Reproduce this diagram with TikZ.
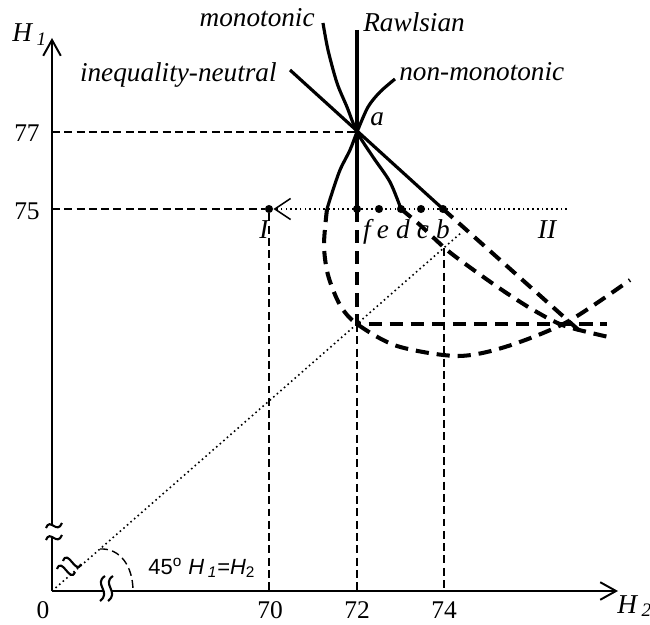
\documentclass[tikz,border=0pt]{standalone}
\usepackage{fontspec}
\setmainfont{Liberation Serif}
\setsansfont{Liberation Sans}
\usepackage{tikz}
\usetikzlibrary{arrows.meta}

\begin{document}
\begin{tikzpicture}[
    x=0.02cm, y=-0.02cm,
    axis/.style={line width=1.1pt},
    axarrow/.style={-{Straight Barb[length=9pt, width=10pt]}},
    curve/.style={line width=1.8pt},
    ext/.style={line width=2.3pt, dash pattern=on 7.5pt off 4.5pt},
    guide/.style={line width=0.8pt, dash pattern=on 4.5pt off 2.5pt},
    dots/.style={line width=0.9pt, dash pattern=on 0.9pt off 1.8pt},
    brk/.style={line width=1.2pt},
    pt/.style={circle, fill, inner sep=0pt, minimum size=4.6pt},
    lbl/.style={font=\fontsize{15.5}{18}\selectfont\itshape, inner sep=0pt},
    num/.style={font=\fontsize{14.5}{17}\selectfont, inner sep=0pt},
  ]

  \useasboundingbox (0,0) rectangle (650,625);

  % Pixel-like coordinates: x to the right, y downwards
  % 70, 72, 74 on the H_2 axis; 75, 77 on the H_1 axis

  \coordinate (O)    at (52,591);
  \coordinate (ytop) at (52,38);
  \coordinate (xend) at (618,591);
  \coordinate (yb1)  at (52,537);   % break on H_1 axis
  \coordinate (yb2)  at (52,525);
  \coordinate (xb1)  at (104,591);  % break on H_2 axis
  \coordinate (xb2)  at (111,591);

  \coordinate (y77) at (52,132);
  \coordinate (y75) at (52,209);
  \coordinate (x70) at (269,591);
  \coordinate (x72) at (357,591);
  \coordinate (x74) at (444,591);

  \coordinate (a)    at (357,132);
  \coordinate (k)    at (357,324);  % kink on the 45 degree line
  \coordinate (d74)  at (444,248);
  \coordinate (dend) at (462,232);
  \coordinate (II)   at (567,209);

  % ── points on the 75 line ───────────────────────────────────────────
  \node[pt] (pI) at (269,209) {};
  \node[pt] (pf) at (357,209) {};
  \node[pt] (pe) at (379,209) {};
  \node[pt] (pd) at (401,209) {};
  \node[pt] (pc) at (421,209) {};
  \node[pt] (pb) at (443,209) {};

  % ── axes ────────────────────────────────────────────────────────────
  \draw[axis] (O) -- (yb1);
  \draw[axis, axarrow] (yb2) -- (ytop);
  \draw[axis] (O) -- (xb1);
  \draw[axis, axarrow] (xb2) -- (xend);

  \draw[brk] (46,528) .. controls (50,517) and (57,535) .. (62,523);
  \draw[brk] (46,540) .. controls (50,529) and (57,547) .. (62,535);
  \draw[brk] (105,576) .. controls (93,584) and (112,592) .. (100,601);
  \draw[brk] (113,576) .. controls (101,584) and (120,592) .. (108,601);

  % ── guide lines ─────────────────────────────────────────────────────
  \draw[guide] (y77) -- (a);
  \draw[guide] (y75) -- (pI);
  \draw[guide] (pI) -- (x70);
  \draw[guide] (k) -- (x72);
  \draw[guide] (d74) -- (x74);

  % 45 degree line with its break and angle
  \draw[dots] (O) -- (dend);
  \draw[brk] (57,569) .. controls (62,556) and (70,584) .. (75,572);
  \draw[brk] (63,561) .. controls (68,548) and (76,576) .. (81,564);
  \draw[guide] (100,549) .. controls (120,548) and (133,566) .. (133,591);

  % dotted move from II to I
  \draw[dots, -{Straight Barb[length=9pt, width=12pt, line width=0.9pt]}]
    (II) -- (pI);

  % ── Rawlsian ────────────────────────────────────────────────────────
  \draw[curve] (357,30) -- (pf.center);
  \draw[ext] (pf.center) -- (k) -- (607,324);

  % ── inequality-neutral ──────────────────────────────────────────────
  \draw[curve] (290,70) -- (pb.center);
  \draw[ext] (pb.center) -- (583,334);

  % ── monotonic ───────────────────────────────────────────────────────
  \draw[curve] plot[smooth] coordinates {(323,23) (328,50) (337,83)
    (347,107) (a) (373,157) (390,182) (pd.center)};
  \draw[ext] plot[smooth] coordinates {(pd.center) (420,225) (447,250)
    (475,271) (505,292) (535,311) (565,326) (613,338)};

  % ── non-monotonic ───────────────────────────────────────────────────
  \draw[curve] plot[smooth] coordinates {(395,79) (380,92) (368,107)
    (a) (350,150) (340,170) (332,193) (327,209)};
  \draw[ext] plot[smooth] coordinates {(327,209) (324,245) (328,275)
    (340,305) (k) (397,346) (457,356) (505,347) (567,322) (630,280)};

  % ── labels ──────────────────────────────────────────────────────────
  \node[lbl, anchor=base east] (tmono) at (315,27) {monotonic};
  \node[lbl, anchor=base west] (traw)  at (363,32) {Rawlsian};
  \node[lbl, anchor=base east] (tineq) at (277,82) {inequality-neutral};
  \node[lbl, anchor=base west] (tnon)  at (399,81) {non-monotonic};
  \node[lbl, anchor=base west] (ta)    at (370,126) {a};

  \node[lbl, anchor=base] (tI)  at (264,239) {I};
  \node[lbl, anchor=base] (tf)  at (367,239) {f};
  \node[lbl, anchor=base] (te)  at (383,239) {e};
  \node[lbl, anchor=base] (td)  at (403,239) {d};
  \node[lbl, anchor=base] (tc)  at (423,239) {c};
  \node[lbl, anchor=base] (tb)  at (443,239) {b};
  \node[lbl, anchor=base] (tII) at (547,239) {II};

  \node[lbl, anchor=base west] (tH1) at (12,42) {H\,\textsubscript{1}};
  \node[lbl, anchor=base west] (tH2) at (617,613) {H\,\textsubscript{2}};

  \node[num, anchor=base] (n0)  at (43,618)  {0};
  \node[num, anchor=base] (n70) at (270,618) {70};
  \node[num, anchor=base] (n72) at (357,618) {72};
  \node[num, anchor=base] (n74) at (444,618) {74};
  \node[num, anchor=base] (n77) at (27,142)  {77};
  \node[num, anchor=base] (n75) at (27,220)  {75};

  \node[font=\sffamily\fontsize{12.5}{15}\selectfont, anchor=base west,
        inner sep=0pt] (tdeg) at (148,574)
    {45\textsuperscript{o} \textit{H}\,\textsubscript{\textit{1}}=\textit{H}\textsubscript{2}};

\end{tikzpicture}
\end{document}
